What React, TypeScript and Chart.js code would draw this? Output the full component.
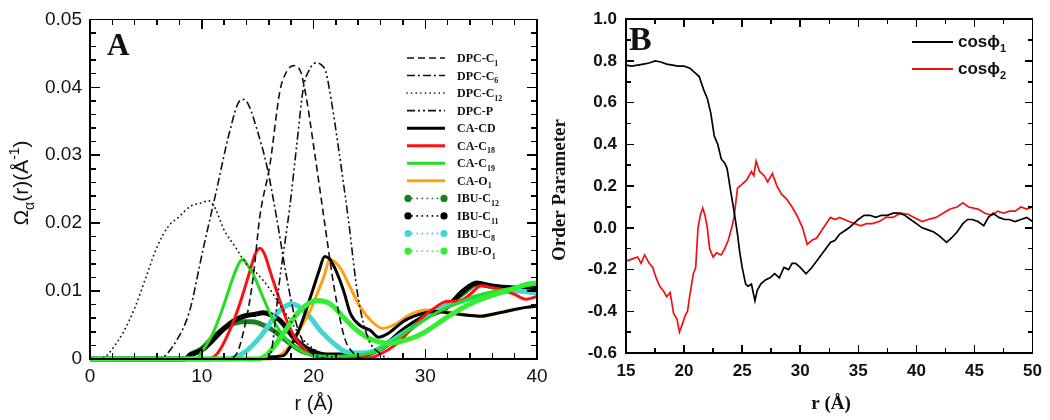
import React, { useEffect, useRef, useState } from "react";
import { Chart, registerables } from "chart.js";
Chart.register(...registerables);

type P = [number, number];

// ---------------- Panel A data (r in Å, Ω in Å^-1) ----------------
const dpcC1: P[] = [[0,0],[12,0],[13,0.0005],[14,0.006],[14.6,0.012],[15.2,0.021],[16.1,0.0286],[17,0.0395],[17.5,0.042],[18.2,0.0432],[18.8,0.0425],[19.3,0.039],[20,0.0315],[21,0.02],[21.9,0.01],[22.8,0.003],[23.5,0.001],[24.5,0],[40,0]];
const dpcC6: P[] = [[0,0],[6,0],[6.5,0.0002],[7.7,0.0026],[8.9,0.007],[10.1,0.016],[11.3,0.0247],[12.5,0.0335],[13.4,0.038],[13.8,0.0382],[14.3,0.037],[14.9,0.034],[15.8,0.0286],[16.7,0.0208],[17.6,0.012],[18.5,0.005],[19.4,0.0016],[20.5,0.0003],[22,0],[40,0]];
const dpcC12: P[] = [[0,0],[1,0],[1.5,0.0005],[2,0.0015],[3,0.004],[4,0.0075],[5,0.012],[6,0.0165],[7,0.0195],[8,0.021],[9,0.0225],[10,0.023],[10.6,0.0233],[11.2,0.0222],[12,0.019],[13,0.0165],[14,0.014],[15,0.0125],[16,0.0105],[17,0.008],[18,0.0055],[19,0.003],[20,0.0015],[21,0.0006],[22,0.0002],[23,0],[40,0]];
const dpcP: P[] = [[0,0],[15.5,0],[16.1,0.0005],[17,0.012],[17.9,0.0227],[18.5,0.0315],[19.1,0.04],[19.6,0.0425],[20.2,0.0436],[20.7,0.0433],[21.1,0.0423],[21.6,0.038],[22.2,0.0315],[23.1,0.0208],[24,0.009],[24.9,0.003],[25.8,0.001],[27,0],[40,0]];
const caCD: P[] = [[0,0],[15,0],[16,0.0003],[17.3,0.0005],[18,0.002],[18.8,0.0047],[19.5,0.008],[20,0.0105],[20.5,0.013],[21,0.0151],[21.4,0.0148],[21.9,0.0134],[22.7,0.01],[23.3,0.0067],[24.2,0.0049],[25.1,0.0042],[25.8,0.0032],[26.8,0.0039],[28,0.0055],[29,0.0063],[30,0.0068],[31,0.007],[32,0.0068],[33,0.0066],[34,0.0064],[35,0.0063],[36,0.0066],[37,0.0069],[38,0.0073],[39,0.0076],[40,0.0078]];
const caC18: P[] = [[0,0],[10.5,0],[11.4,0.0008],[12.5,0.0042],[13.4,0.0081],[14.3,0.0129],[14.8,0.0155],[15.2,0.0163],[15.6,0.0155],[16.2,0.0125],[16.7,0.01],[17.6,0.0057],[18.5,0.0028],[19.7,0.0009],[21,0.0002],[25,0.0002],[25.7,0.0005],[27.5,0.0023],[28.9,0.0047],[30,0.0065],[31,0.0077],[32,0.0085],[33,0.0085],[34,0.0095],[35,0.0108],[36,0.0105],[37,0.0102],[38,0.0095],[39,0.0088],[40,0.0092]];
const caC19: P[] = [[0,0],[9.5,0],[10.1,0.0013],[11,0.0038],[11.9,0.0076],[12.8,0.012],[13.4,0.0143],[13.7,0.0147],[14.1,0.0138],[14.6,0.0125],[15.5,0.009],[16.4,0.0057],[17.6,0.0028],[18.8,0.0013],[20,0.0005],[22,0.0004],[25,0.0008],[27,0.0025],[29,0.0048],[31,0.0068],[33,0.0083],[35,0.0095],[37,0.0102],[39,0.0108],[40,0.011]];
const caO1: P[] = [[0,0],[16,0],[16.7,0.0003],[17.5,0.0012],[18.2,0.0028],[19,0.005],[19.7,0.0071],[20.3,0.0095],[20.9,0.012],[21.5,0.0147],[21.9,0.0143],[22.4,0.0134],[23.3,0.0105],[24.2,0.0076],[25.1,0.0057],[26.2,0.0045],[27.4,0.0052],[28.6,0.0065],[30.1,0.0072],[31.6,0.007],[33.4,0.0066],[35.2,0.0063],[37,0.007],[39.1,0.0076],[40,0.0078]];
const ibuC12: P[] = [[0,0],[8.5,0],[9,0.0007],[10,0.0015],[11,0.0032],[12,0.0045],[12.8,0.0052],[13.7,0.0055],[14.6,0.0055],[15.5,0.005],[16.4,0.0042],[17.2,0.0032],[17.9,0.0023],[18.7,0.0014],[19.4,0.0009],[20.5,0.0005],[24,0.0005],[26,0.0015],[28,0.004],[30,0.0062],[32,0.0079],[33.5,0.0098],[34.6,0.011],[35.8,0.0107],[37.6,0.0104],[40,0.0102]];
const ibuC11: P[] = [[0,0],[8.5,0],[9,0.0006],[10,0.0013],[11,0.0028],[12,0.0045],[12.5,0.0052],[13.3,0.006],[14,0.0064],[14.8,0.0066],[15.5,0.0068],[16.2,0.0065],[17,0.0057],[17.6,0.0045],[18.2,0.0032],[19,0.002],[19.7,0.0013],[21.2,0.0006],[24,0.0006],[25,0.0009],[26.2,0.0017],[28,0.0042],[29.8,0.0061],[31.9,0.0076],[33.4,0.01],[34.6,0.0112],[35.8,0.0108],[37.6,0.0105],[40,0.0104]];
const ibuC8: P[] = [[0,0],[12.5,0],[13.1,0.0003],[14,0.0012],[15.2,0.0032],[16,0.005],[16.7,0.0067],[17.5,0.0078],[18,0.0081],[18.6,0.0078],[19.4,0.0067],[20,0.0055],[20.6,0.0042],[21.8,0.0023],[23,0.001],[24.2,0.0009],[25.7,0.0013],[27.1,0.0028],[28.9,0.0047],[31,0.0071],[33.4,0.0086],[35.8,0.0096],[38.2,0.01],[40,0.0097]];
const ibuO1: P[] = [[0,0],[15,0],[15.8,0.0006],[16.4,0.0017],[17.2,0.0035],[17.9,0.0052],[18.5,0.0066],[19.1,0.0076],[19.7,0.0083],[20.3,0.0086],[20.9,0.0085],[21.5,0.0081],[22.1,0.0072],[22.7,0.0061],[23.9,0.0042],[25.3,0.0028],[26.8,0.0023],[28.3,0.0028],[29.8,0.0038],[31.9,0.0061],[34,0.0081],[36.4,0.0096],[38,0.0104],[39.1,0.011],[40,0.0112]];

const labelsA = ["DPC-C_{1}","DPC-C_{6}","DPC-C_{12}","DPC-P","CA-CD","CA-C_{18}","CA-C_{19}","CA-O_{1}","IBU-C_{12}","IBU-C_{11}","IBU-C_{8}","IBU-O_{1}"];

// ---------------- Panel B data (r in Å, order parameter) ----------------
const cosPhi1: P[] = [[15,0.78],[15.5,0.775],[16,0.78],[16.5,0.785],[17,0.79],[17.5,0.8],[18,0.795],[18.5,0.785],[19,0.78],[19.5,0.775],[20,0.775],[20.5,0.765],[21,0.74],[21.3,0.725],[21.7,0.66],[22,0.62],[22.3,0.55],[22.6,0.44],[22.9,0.4],[23.2,0.33],[23.5,0.31],[23.7,0.285],[24,0.18],[24.3,0.08],[24.6,-0.03],[24.8,-0.12],[25,-0.19],[25.3,-0.27],[25.5,-0.28],[25.8,-0.27],[26.1,-0.35],[26.3,-0.3],[26.6,-0.27],[27,-0.25],[27.4,-0.24],[27.8,-0.22],[28.2,-0.24],[28.6,-0.19],[29,-0.2],[29.3,-0.17],[29.6,-0.17],[30,-0.19],[30.5,-0.22],[31,-0.19],[31.4,-0.16],[31.8,-0.13],[32.2,-0.1],[32.6,-0.07],[33,-0.06],[33.4,-0.03],[33.8,-0.015],[34.2,0],[34.6,0.02],[35,0.04],[35.5,0.06],[36,0.06],[36.5,0.05],[37,0.06],[37.5,0.06],[38,0.07],[38.5,0.07],[39,0.06],[39.5,0.04],[40,0.02],[40.5,0],[41,-0.01],[41.5,-0.02],[42,-0.04],[42.6,-0.07],[43,-0.05],[43.5,-0.02],[44,0.02],[44.4,0.04],[44.8,0.04],[45.3,0.03],[45.8,0.01],[46.2,0.05],[46.6,0.07],[47.1,0.05],[47.6,0.04],[48,0.04],[48.5,0.03],[49,0.04],[49.5,0.05],[50,0.03]];
const cosPhi2: P[] = [[15,-0.16],[15.5,-0.15],[16,-0.14],[16.3,-0.17],[16.6,-0.13],[17,-0.17],[17.3,-0.19],[17.6,-0.24],[17.9,-0.28],[18.2,-0.3],[18.5,-0.33],[18.8,-0.31],[19.1,-0.41],[19.4,-0.44],[19.6,-0.5],[19.8,-0.47],[20.1,-0.42],[20.3,-0.4],[20.5,-0.32],[20.8,-0.22],[21,-0.19],[21.2,0],[21.4,0.06],[21.6,0.095],[21.8,0.06],[22,0],[22.2,-0.1],[22.5,-0.14],[22.8,-0.12],[23.2,-0.13],[23.5,-0.1],[23.8,-0.06],[24.1,0],[24.3,0.05],[24.6,0.19],[25,0.21],[25.4,0.23],[25.8,0.27],[26,0.25],[26.2,0.32],[26.5,0.27],[26.9,0.25],[27.2,0.22],[27.6,0.26],[28,0.2],[28.4,0.16],[28.8,0.14],[29.3,0.1],[29.8,0.05],[30.2,0],[30.6,-0.08],[31,-0.06],[31.4,-0.05],[32,0],[32.6,0.05],[33,0.04],[33.4,0.05],[33.8,0.04],[34.2,0.03],[34.7,0.02],[35.2,0.01],[35.7,0.02],[36.2,0.02],[36.8,0.03],[37.4,0.05],[38,0.05],[38.6,0.07],[39.3,0.065],[39.8,0.05],[40.5,0.03],[41,0.04],[41.7,0.05],[42.3,0.07],[42.9,0.09],[43.5,0.1],[44,0.12],[44.5,0.1],[45.3,0.09],[45.9,0.07],[46.5,0.06],[47,0.08],[47.5,0.07],[48,0.08],[48.5,0.08],[49,0.1],[49.5,0.09],[50,0.1]];
const labelsB = ["cosϕ_{1}", "cosϕ_{2}"];

// ---------------- helpers ----------------
type Part = { t: string; k: number };
function parseRich(s: string): Part[] {
  const out: Part[] = [];
  let i = 0, buf = "";
  while (i < s.length) {
    const c = s[i];
    if ((c === "_" || c === "^") && s[i + 1] === "{") {
      if (buf) { out.push({ t: buf, k: 0 }); buf = ""; }
      const end = s.indexOf("}", i);
      out.push({ t: s.slice(i + 2, end), k: c === "^" ? 1 : -1 });
      i = end + 1;
    } else { buf += c; i++; }
  }
  if (buf) out.push({ t: buf, k: 0 });
  return out;
}
function drawRich(ctx: CanvasRenderingContext2D, s: string, x: number, y: number, size: number, family: string, weight: string, align: "left" | "center") {
  const parts = parseRich(s);
  const fontFor = (k: number) => `${weight} ${k ? Math.round(size * 0.66) : size}px ${family}`;
  let w = 0;
  for (const p of parts) { ctx.font = fontFor(p.k); w += ctx.measureText(p.t).width; }
  let cx = align === "center" ? x - w / 2 : x;
  ctx.textAlign = "left";
  ctx.textBaseline = "alphabetic";
  for (const p of parts) {
    ctx.font = fontFor(p.k);
    const dy = p.k === -1 ? size * 0.3 : p.k === 1 ? -size * 0.42 : 0;
    ctx.fillText(p.t, cx, y + dy);
    cx += ctx.measureText(p.t).width;
  }
}

// Frame geometry (box + inward ticks) taken from the chart's own scales
type Mark = { l: number; t: number; w: number; h: number };
function frameMarks(chart: any, xMajor: number, xMinor: number, yMajor: number, yMinor: number, majorLen: number, minorLen: number, lw: number): Mark[] {
  const a = chart.chartArea;
  const xs = chart.scales.x, ys = chart.scales.y;
  const L = a.left, R = a.right, T = a.top, B = a.bottom, h = lw / 2;
  const m: Mark[] = [
    { l: L - h, t: T - h, w: R - L + lw, h: lw },
    { l: L - h, t: B - h, w: R - L + lw, h: lw },
    { l: L - h, t: T - h, w: lw, h: B - T + lw },
    { l: R - h, t: T - h, w: lw, h: B - T + lw },
  ];
  const nx = Math.round((xs.max - xs.min) / xMinor);
  for (let i = 1; i < nx; i++) {
    const v = xs.min + i * xMinor;
    const q = v / xMajor;
    const len = Math.abs(q - Math.round(q)) < 1e-6 ? majorLen : minorLen;
    const px = xs.getPixelForValue(v);
    m.push({ l: px - h, t: B - len, w: lw, h: len });
    m.push({ l: px - h, t: T, w: lw, h: len });
  }
  const ny = Math.round((ys.max - ys.min) / yMinor);
  for (let i = 1; i < ny; i++) {
    const v = ys.min + i * yMinor;
    const q = v / yMajor;
    const len = Math.abs(q - Math.round(q)) < 1e-6 ? majorLen : minorLen;
    const py = ys.getPixelForValue(v);
    m.push({ l: L, t: py - h, w: len, h: lw });
    m.push({ l: R - len, t: py - h, w: len, h: lw });
  }
  return m;
}
function FrameOverlay({ marks }: { marks: Mark[] }) {
  return (
    <>
      {marks.map((k, i) => (
        <div key={i} style={{ position: "absolute", left: k.l, top: k.t, width: k.w, height: k.h, background: "#000", pointerEvents: "none" }} />
      ))}
    </>
  );
}

const toXY = (d: P[]) => d.map(([x, y]) => ({ x, y }));
const SANS = '"Liberation Sans", Arial, sans-serif';
const SERIF = '"Liberation Serif", "Times New Roman", serif';

type StyleA = { color: string; width: number; dash: number[]; dots?: boolean; cap?: CanvasLineCap };
const stylesA: StyleA[] = [
  { color: "#111", width: 1.6, dash: [7, 4] },
  { color: "#111", width: 1.6, dash: [8, 3, 2, 3] },
  { color: "#111", width: 1.8, dash: [0.1, 4.5], cap: "round" },
  { color: "#111", width: 1.6, dash: [8, 3, 2, 3, 2, 3] },
  { color: "#000000", width: 3, dash: [] },
  { color: "#ff1010", width: 3, dash: [] },
  { color: "#22dd22", width: 3, dash: [] },
  { color: "#ffa010", width: 3, dash: [] },
  { color: "#1f7f1f", width: 5, dash: [], dots: true },
  { color: "#000000", width: 5, dash: [], dots: true },
  { color: "#44d6cf", width: 5, dash: [], dots: true },
  { color: "#33ee33", width: 5, dash: [], dots: true },
];
const seriesA: P[][] = [dpcC1, dpcC6, dpcC12, dpcP, caCD, caC18, caC19, caO1, ibuC12, ibuC11, ibuC8, ibuO1];
const drawOrderA = [0, 0, 0, 0, 5, 4, 3, 6, 9, 8, 7, 2];

function annotateA(c: any) {
  const ctx: CanvasRenderingContext2D = c.ctx;
  ctx.save();
  ctx.fillStyle = "#111";
  ctx.font = `bold 31px ${SERIF}`;
  ctx.textAlign = "left"; ctx.textBaseline = "alphabetic";
  ctx.fillText("A", 107, 55);
  drawRich(ctx, "r (Å)", 314, 410, 20, SANS, "normal", "center");
  ctx.save();
  ctx.translate(28, 183);
  ctx.rotate(-Math.PI / 2);
  drawRich(ctx, "Ω_{α}(r)(Å^{-1})", 0, 0, 21, SANS, "normal", "center");
  ctx.restore();
  const x0 = 407, x1 = 445, tx = 457, y0 = 58, dy = 17.55;
  labelsA.forEach((lab, i) => {
    const st = stylesA[i];
    const y = y0 + i * dy;
    ctx.save();
    ctx.strokeStyle = st.color;
    if (st.dots) {
      ctx.lineWidth = 1.8;
      ctx.lineCap = "round";
      ctx.setLineDash([0.1, 5]);
      ctx.beginPath(); ctx.moveTo(x0 + 5, y); ctx.lineTo(x1 - 5, y); ctx.stroke();
      ctx.fillStyle = st.color;
      [x0 + 1, x1 - 1].forEach((px) => { ctx.beginPath(); ctx.arc(px, y, 3.6, 0, Math.PI * 2); ctx.fill(); });
    } else {
      ctx.lineWidth = st.width === 3 ? 3 : 1.6;
      ctx.lineCap = st.cap || "butt";
      ctx.setLineDash(st.dash);
      ctx.beginPath(); ctx.moveTo(x0, y); ctx.lineTo(x1, y); ctx.stroke();
    }
    ctx.restore();
    ctx.fillStyle = "#111";
    drawRich(ctx, lab, tx, y + 4, 12, SERIF, "bold", "left");
  });
  ctx.restore();
}

function PanelA() {
  const ref = useRef<HTMLCanvasElement>(null);
  const [marks, setMarks] = useState<Mark[]>([]);
  useEffect(() => {
    if (!ref.current) return;
    const chart = new Chart(ref.current, {
      type: "line",
      data: {
        datasets: seriesA.map((d, i) => ({
          label: labelsA[i],
          data: toXY(d),
          borderColor: stylesA[i].color,
          borderWidth: stylesA[i].width,
          borderDash: stylesA[i].dash,
          borderCapStyle: stylesA[i].cap || "butt",
          pointRadius: 0,
          cubicInterpolationMode: "monotone",
          fill: false,
          order: drawOrderA[i],
          clip: 6,
        })) as any,
      },
      options: {
        responsive: false,
        animation: false,
        layout: { padding: { left: 0, top: 15, right: 23, bottom: 0 } },
        plugins: { legend: { display: false }, tooltip: { enabled: false } },
        scales: {
          x: {
            type: "linear", min: 0, max: 40,
            ticks: { stepSize: 10, font: { family: SANS, size: 19 }, color: "#111", padding: 6, maxRotation: 0 },
            grid: { display: false, drawTicks: false }, border: { display: false },
            afterFit: (s: any) => { s.height = 61; },
          },
          y: {
            type: "linear", min: 0, max: 0.05,
            ticks: { stepSize: 0.01, font: { family: SANS, size: 19 }, color: "#111", padding: 8,
              callback: (v: any) => (Math.abs(v) < 1e-9 ? "0" : Number(v).toFixed(2)) },
            grid: { display: false, drawTicks: false }, border: { display: false },
            afterFit: (s: any) => { s.width = 90; },
          },
        },
      },
      plugins: [{ id: "annotA", afterDraw(c: any) { annotateA(c); } }],
    } as any);
    setMarks(frameMarks(chart, 10, 2, 0.01, 0.002, 10, 6, 1.5));
    return () => chart.destroy();
  }, []);
  return (
    <div style={{ position: "absolute", left: 0, top: 0, width: 560, height: 420 }}>
      <canvas ref={ref} width={560} height={420} style={{ position: "absolute", left: 0, top: 0, width: 560, height: 420 }} />
      <FrameOverlay marks={marks} />
    </div>
  );
}

function PanelB() {
  const ref = useRef<HTMLCanvasElement>(null);
  const [marks, setMarks] = useState<Mark[]>([]);
  useEffect(() => {
    if (!ref.current) return;
    const colors = ["#000000", "#ee1111"];
    const chart = new Chart(ref.current, {
      type: "line",
      data: {
        datasets: [cosPhi1, cosPhi2].map((d, i) => ({
          label: labelsB[i],
          data: toXY(d),
          borderColor: colors[i],
          borderWidth: 1.7,
          pointRadius: 0,
          tension: 0,
          fill: false,
        })) as any,
      },
      options: {
        responsive: false,
        animation: false,
        layout: { padding: { left: 0, top: 17, right: 11, bottom: 0 } },
        plugins: { legend: { display: false }, tooltip: { enabled: false } },
        scales: {
          x: {
            type: "linear", min: 15, max: 50,
            ticks: { stepSize: 5, font: { family: SANS, size: 17, weight: "bold" }, color: "#111", padding: 8, maxRotation: 0 },
            grid: { display: false, drawTicks: false }, border: { display: false },
            afterFit: (s: any) => { s.height = 67; },
          },
          y: {
            type: "linear", min: -0.6, max: 1.0,
            ticks: { stepSize: 0.2, font: { family: SANS, size: 17, weight: "bold" }, color: "#111", padding: 9,
              callback: (v: any) => Number(v).toFixed(1) },
            grid: { display: false, drawTicks: false }, border: { display: false },
            afterFit: (s: any) => { s.width = 86; },
          },
        },
      },
      plugins: [
        {
          id: "annotB",
          afterDraw(c: any) {
            const ctx: CanvasRenderingContext2D = c.ctx;
            const ox = 540;
            ctx.save();
            ctx.fillStyle = "#111";
            ctx.font = `bold 34px ${SERIF}`;
            ctx.textAlign = "left"; ctx.textBaseline = "alphabetic";
            ctx.fillText("B", 629 - ox, 50);
            drawRich(ctx, "r (Å)", 831 - ox, 409, 19, SERIF, "bold", "center");
            ctx.save();
            ctx.translate(565 - ox, 190);
            ctx.rotate(-Math.PI / 2);
            drawRich(ctx, "Order Parameter", 0, 0, 19, SERIF, "bold", "center");
            ctx.restore();
            const rows = [42, 69];
            labelsB.forEach((lab, i) => {
              ctx.save();
              ctx.strokeStyle = colors[i];
              ctx.lineWidth = 1.8;
              ctx.beginPath(); ctx.moveTo(912 - ox, rows[i]); ctx.lineTo(953 - ox, rows[i]); ctx.stroke();
              ctx.restore();
              ctx.fillStyle = "#111";
              drawRich(ctx, lab, 958 - ox, rows[i] + 5, 17, SANS, "bold", "left");
            });
            ctx.restore();
          },
        },
      ],
    } as any);
    setMarks(frameMarks(chart, 5, 2.5, 0.2, 0.1, 8, 5, 1.5));
    return () => chart.destroy();
  }, []);
  return (
    <div style={{ position: "absolute", left: 540, top: 0, width: 510, height: 420 }}>
      <canvas ref={ref} width={510} height={420} style={{ position: "absolute", left: 0, top: 0, width: 510, height: 420 }} />
      <FrameOverlay marks={marks} />
    </div>
  );
}

export default function App() {
  return (
    <div style={{ position: "fixed", left: 0, top: 0, width: 1050, height: 420, background: "#fff", overflow: "hidden" }}>
      <PanelA />
      <PanelB />
    </div>
  );
}
